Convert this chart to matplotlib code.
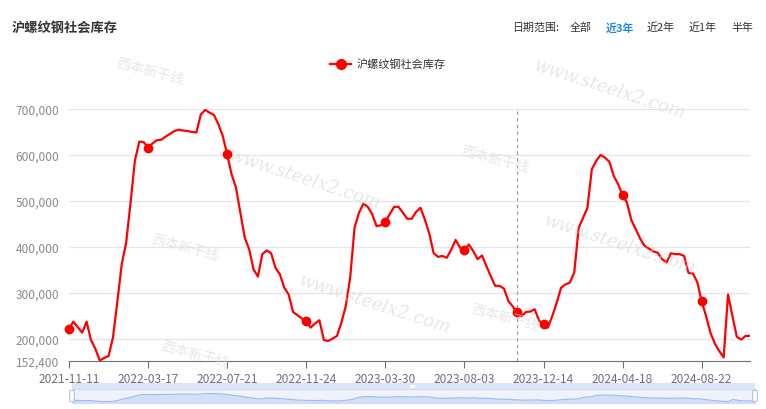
import pandas as pd
import matplotlib.pyplot as plt
from matplotlib.patches import Rectangle, FancyBboxPatch
from matplotlib.ticker import FuncFormatter

plt.rcParams["font.family"] = ["Noto Sans CJK SC", "DejaVu Sans"]

# weekly social inventory of rebar (tonnes); the National Day week 2023-10-05 has no report
dates = pd.date_range("2021-11-11", periods=157, freq="7D")
dates = dates[dates != pd.Timestamp("2023-10-05")]
inventory = [
    221000, 237000, 225000, 213000, 237000, 197000, 178000, 152400, 158000, 162000,
    202000, 280000, 362000, 408000, 495000, 588000, 629000, 628000, 616000, 625000,
    632000, 633000, 640000, 646000, 652000, 655000, 653000, 652000, 650000, 649000,
    688000, 698000, 692000, 687000, 667000, 641000, 601000, 558000, 529000, 474000,
    420000, 395000, 351000, 335000, 384000, 392000, 386000, 354000, 340000, 311000,
    296000, 258000, 251000, 244000, 238000, 224000, 233000, 240000, 197000, 195000,
    200000, 206000, 235000, 271000, 333000, 442000, 474000, 494000, 487000, 471000,
    445000, 447000, 455000, 471000, 487000, 487000, 474000, 461000, 461000, 476000,
    485000, 459000, 429000, 386000, 378000, 380000, 376000, 394000, 415000, 398000,
    393000, 405000, 391000, 373000, 381000, 358000, 336000, 315000, 315000, 309000,
    282000, 270000, 257000, 249000, 258000, 259000, 264000, 239000, 231000, 224000,
    249000, 278000, 311000, 318000, 322000, 344000, 441000, 463000, 485000, 569000,
    587000, 600000, 594000, 585000, 554000, 536000, 512000, 496000, 458000, 438000,
    418000, 402000, 396000, 390000, 387000, 373000, 366000, 386000, 384000, 384000,
    380000, 343000, 342000, 323000, 281000, 249000, 213000, 189000, 173000, 159000,
    296000, 249000, 204000, 198000, 206000, 206000,
]
y_ticks = [152400, 200000, 300000, 400000, 500000, 600000, 700000]
tick_step = 18
symbol_idx = [0, 18, 36, 54, 72, 90, 102, 108, 126, 144]
marked_idx = 102
range_labels = ["全部", "近3年", "近2年", "近1年", "半年"]
range_x = [570, 606, 647, 689, 731]

W, H = 766, 410
fig = plt.figure(figsize=(W / 100, H / 100), dpi=100)


def fx(px):
    return px / W


def fy(py):
    return 1 - py / H


# header
fig.text(fx(12), fy(28), "沪螺纹钢社会库存", fontsize=9.5, fontweight="bold",
         color="#333333", va="center")
fig.text(fx(512), fy(28), "日期范围:", fontsize=7.9, color="#333333", va="center")
for lab, x in zip(range_labels, range_x):
    active = lab == "近3年"
    fig.text(fx(x), fy(28), lab, fontsize=7.9, va="center",
             color="#1E88E5" if active else "#333333",
             fontweight="bold" if active else "normal")

# watermarks
for x, y in [(305, 180), (375, 305), (610, 90), (620, 245)]:
    fig.text(fx(x), fy(y), "www.steelx2.com", fontsize=13, style="italic",
             color="#d8d8d8", alpha=0.6, rotation=-18, ha="center", va="center",
             family="DejaVu Serif")
for x, y in [(185, 248), (495, 160), (505, 318), (195, 355), (150, 72)]:
    fig.text(fx(x), fy(y), "西本新干线", fontsize=10, color="#d8d8d8", alpha=0.6,
             rotation=-15, ha="center", va="center")

# main plot
ax = fig.add_axes([fx(69), fy(361.5), fx(750 - 69), (361.5 - 110) / H])
x = list(range(len(inventory)))
ax.plot(x, inventory, color="#FF0000", linewidth=1.6, zorder=3)
ax.plot([x[i] for i in symbol_idx], [inventory[i] for i in symbol_idx], "o",
        color="#FF0000", markersize=6, zorder=4, clip_on=False)
ax.axvline(marked_idx, color="#999999", linestyle=(0, (3, 3)), linewidth=0.8)

ax.set_xlim(0, len(inventory) - 1)
ax.set_ylim(y_ticks[0], y_ticks[-1])
ax.set_yticks(y_ticks)
ax.yaxis.set_major_formatter(FuncFormatter(lambda v, p: f"{int(v):,}"))
for v in y_ticks[1:]:
    ax.axhline(v, color="#E0E6F1", linewidth=0.9, zorder=1)
ax.set_xticks(x[::tick_step])
ax.set_xticklabels([d.strftime("%Y-%m-%d") for d in dates[::tick_step]])
ax.tick_params(axis="y", length=0, pad=7, labelsize=8.6, labelcolor="#8a8a8a")
ax.tick_params(axis="x", length=5, width=0.8, color="#6E7079", pad=3,
               labelsize=8.6, labelcolor="#6E7079")
for s in ["top", "right", "left"]:
    ax.spines[s].set_visible(False)
ax.spines["bottom"].set_color("#6E7079")
ax.patch.set_alpha(0)

# legend
fig.add_artist(plt.Line2D([fx(330), fx(351)], [fy(65), fy(65)], color="#FF0000",
                          linewidth=1.6))
fig.add_artist(plt.Line2D([fx(340.5)], [fy(65)], marker="o", color="#FF0000",
                          markersize=7))
fig.text(fx(357), fy(65), "沪螺纹钢社会库存", fontsize=8, color="#333333", va="center")

# data zoom slider
fig.add_artist(Rectangle((fx(72), fy(390)), fx(755 - 72), 6 / H,
                         facecolor="#DCE5F7", edgecolor="none"))
fig.add_artist(Rectangle((fx(410), fy(388.5)), fx(5), 3 / H,
                         facecolor="white", edgecolor="none"))
sl = fig.add_axes([fx(72), fy(404), fx(755 - 72), 14 / H])
base = 60000
sl.fill_between(x, inventory, base, color="#D3DFF9", linewidth=0)
sl.plot(x, inventory, color="#9DB8F5", linewidth=0.8)
sl.set_xlim(0, len(inventory) - 1)
sl.set_ylim(base, 1000000)
sl.set_facecolor("#EEF3FD")
sl.set_xticks([])
sl.set_yticks([])
for s in sl.spines.values():
    s.set_color("#D2DBEE")
    s.set_linewidth(0.8)
for hx in [72, 755]:
    fig.add_artist(FancyBboxPatch((fx(hx - 1.5), fy(402)), fx(3), 10 / H,
                                  boxstyle="round,pad=0.001", facecolor="white",
                                  edgecolor="#ACB8D1", linewidth=0.7))

fig.savefig("out.png", dpi=100)
